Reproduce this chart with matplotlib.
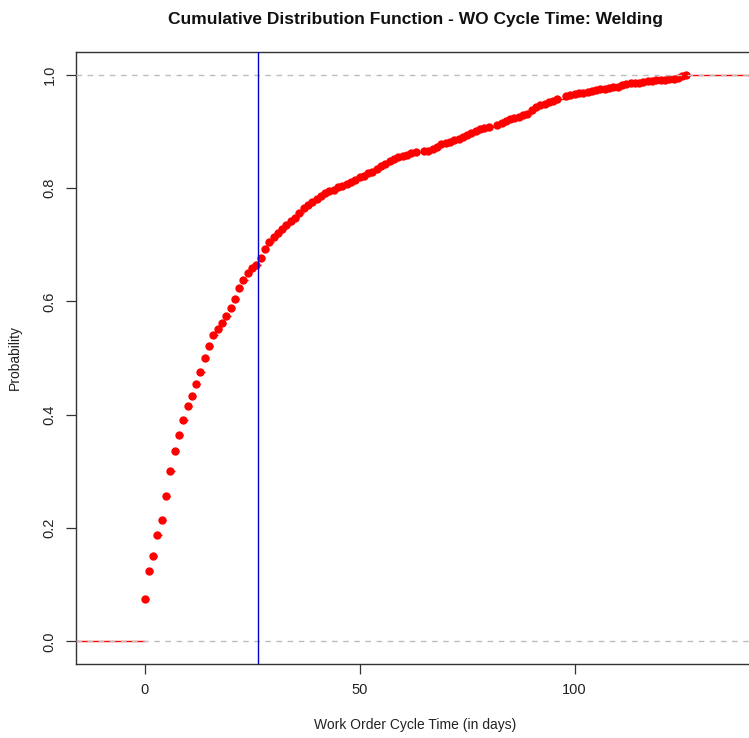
import numpy as np
import matplotlib
matplotlib.use("Agg")
import matplotlib.pyplot as plt

plt.rcParams['font.family'] = ['Liberation Sans', 'DejaVu Sans']

# Distinct cycle-time values (days) and the empirical CDF at each
days = [0, 1, 2, 3, 4, 5, 6, 7, 8, 9, 10, 11, 12, 13, 14, 15, 16, 17, 18, 19,
        20, 21, 22, 23, 24, 25, 26, 27, 28, 29, 30, 31, 32, 33, 34, 35, 36, 37,
        38, 39, 40, 41, 42, 43, 44, 45, 46, 47, 48, 49, 50, 51, 52, 53, 54, 55,
        56, 57, 58, 59, 60, 61, 62, 63, 65, 66, 67, 68, 69, 70, 71, 72, 73, 74,
        75, 76, 77, 78, 79, 80, 82, 83, 84, 85, 86, 87, 88, 89, 90, 91, 92, 93,
        94, 95, 96, 98, 99, 100, 101, 102, 103, 104, 105, 106, 107, 108, 109,
        110, 111, 112, 113, 114, 115, 116, 117, 118, 119, 120, 121, 122, 123,
        124, 125, 126]
cdf = [0.074, 0.124, 0.151, 0.187, 0.214, 0.257, 0.300, 0.336, 0.365, 0.390,
       0.416, 0.433, 0.454, 0.475, 0.500, 0.521, 0.540, 0.551, 0.561, 0.574,
       0.589, 0.604, 0.624, 0.637, 0.650, 0.658, 0.664, 0.677, 0.692, 0.704,
       0.714, 0.721, 0.728, 0.735, 0.741, 0.747, 0.756, 0.765, 0.770, 0.775,
       0.780, 0.786, 0.791, 0.794, 0.797, 0.801, 0.804, 0.807, 0.810, 0.815,
       0.819, 0.822, 0.826, 0.829, 0.833, 0.838, 0.843, 0.848, 0.851, 0.854,
       0.856, 0.859, 0.861, 0.863, 0.865, 0.866, 0.868, 0.873, 0.877, 0.880,
       0.882, 0.885, 0.887, 0.890, 0.893, 0.897, 0.900, 0.904, 0.906, 0.908,
       0.912, 0.915, 0.919, 0.922, 0.924, 0.926, 0.928, 0.931, 0.938, 0.943,
       0.946, 0.949, 0.951, 0.953, 0.957, 0.962, 0.964, 0.966, 0.967, 0.968,
       0.970, 0.971, 0.973, 0.974, 0.975, 0.977, 0.978, 0.979, 0.981, 0.983,
       0.985, 0.986, 0.986, 0.987, 0.988, 0.989, 0.990, 0.990, 0.991, 0.992,
       0.993, 0.995, 0.997, 1.000]
mean_cycle_time = 26.35

x_ticks = [0, 50, 100]
y_ticks = [0.0, 0.2, 0.4, 0.6, 0.8, 1.0]

fig = plt.figure(figsize=(7.49, 7.38), dpi=100)
ax = fig.add_axes([76 / 749, 74 / 738, 679 / 749, 612 / 738])

x = np.array(days, dtype=float)
y = np.array(cdf, dtype=float)

# horizontal steps of the ECDF, extended past both ends
span = x.max() - x.min()
starts = np.concatenate([[x.min() - span], x])
ends = np.concatenate([x, [x.max() + span]])
levels = np.concatenate([[0.0], y])
ax.hlines(levels, starts, ends, colors='#FF0000', linewidth=1.0, zorder=2)
ax.plot(x, y, linestyle='none', marker='o', markersize=6.0,
        color='#FF0000', markeredgewidth=0, zorder=3)

ax.axhline(0, color='#BDBDBD', linestyle=(0, (4, 4)), linewidth=1.0, zorder=4)
ax.axhline(1, color='#BDBDBD', linestyle=(0, (4, 4)), linewidth=1.0, zorder=4)
ax.axvline(mean_cycle_time, color='#0000CD', linewidth=1.0, zorder=5)

lo = x.min() - 0.08 * span
hi = x.max() + 0.08 * span
pad = 0.04 * (hi - lo)
ax.set_xlim(lo - pad, hi + pad)
ax.set_ylim(-0.04, 1.04)

ax.set_xticks(x_ticks)
ax.set_xticklabels([str(t) for t in x_ticks])
ax.set_yticks(y_ticks)
ax.set_yticklabels([f"{t:.1f}" for t in y_ticks], rotation=90, va='center')
ax.tick_params(direction='out', length=7, width=0.9, colors='#333333',
               labelsize=10.5, labelcolor='#222222', pad=7)

for s in ax.spines.values():
    s.set_color('#333333')
    s.set_linewidth(1.0)

ax.set_xlabel('Work Order Cycle Time (in days)', fontsize=10, color='#222222',
              labelpad=15)
ax.set_ylabel('Probability', fontsize=10, color='#222222', labelpad=15)
ax.set_title('Cumulative Distribution Function - WO Cycle Time: Welding',
             fontsize=12.5, fontweight='bold', color='#111111', pad=20)

fig.savefig('out.png', dpi=100)
